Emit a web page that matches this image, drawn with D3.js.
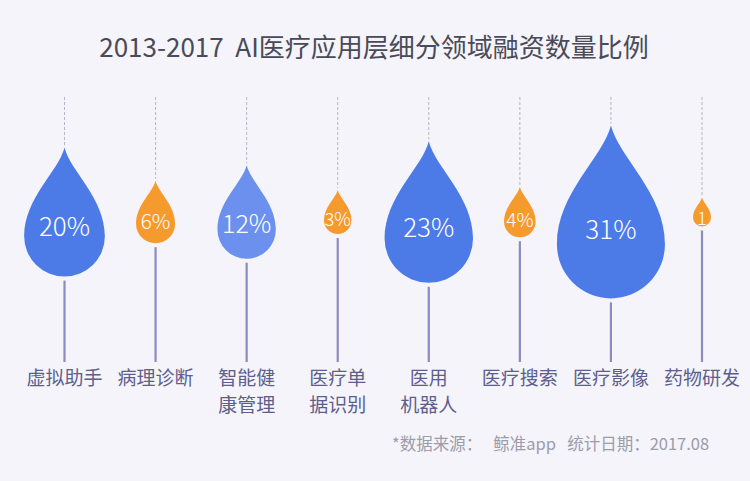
<!DOCTYPE html>
<html>
<head>
<meta charset="utf-8">
<script src="https://cdn.jsdelivr.net/npm/d3@7/dist/d3.min.js"></script>
<style>
  html, body { margin: 0; padding: 0; background: #f4f4fa; }
  svg { display: block; }
  text { font-family: "Noto Sans CJK SC", "Noto Sans", sans-serif; }
</style>
</head>
<body>
<svg id="chart" width="750" height="481"></svg>
<script>
// ---- data ----
const categories = ["虚拟助手", "病理诊断", "智能健康管理", "医疗单据识别", "医用机器人", "医疗搜索", "医疗影像", "药物研发"];
const labelLines = [["虚拟助手"], ["病理诊断"], ["智能健", "康管理"], ["医疗单", "据识别"], ["医用", "机器人"], ["医疗搜索"], ["医疗影像"], ["药物研发"]];
const values = [20, 6, 12, 3, 23, 4, 31, 1];
const valueLabels = ["20%", "6%", "12%", "3%", "23%", "4%", "31%", "1"];
const colorGroup = ["blue", "orange", "light", "orange", "blue", "orange", "blue", "orange"];
const titleText = "2013-2017  AI医疗应用层细分领域融资数量比例";
const sourceText = "*数据来源：   鲸准app   统计日期：2017.08";

// ---- drawing ----
const W = 750, H = 481;
const svg = d3.select("#chart");
svg.append("rect").attr("width", W).attr("height", H).attr("fill", "#f4f4fa");

svg.append("text")
  .attr("x", 374).attr("y", 45)
  .attr("text-anchor", "middle").attr("dominant-baseline", "central")
  .attr("font-size", 26).attr("fill", "#4a4a58")
  .style("white-space", "pre")
  .text(titleText);

const x = d3.scalePoint().domain(categories).range([64.5, 702]);
const r = d3.scalePow().exponent(0.75).domain([0, 31]).range([5.3, 54]);
const color = d3.scaleOrdinal().domain(["blue", "light", "orange"]).range(["#4c7be8", "#6b90ee", "#f59a2c"]);
const fontSize = v => Math.max(18.5, Math.min(26, 12 + 0.45 * r(v)));

const K = 2.2;            // tip height / radius
const midY = 212;         // vertical centre of each drop's bounding box
const dashTop = 97;
const stemBottom = 362;

function dropPath(rad) {
  const p = d3.path();
  p.moveTo(0, -K * rad);
  p.bezierCurveTo(0.15 * rad, -1.6 * rad, rad, -0.95 * rad, rad, 0);
  p.arc(0, 0, rad, 0, Math.PI, false);
  p.bezierCurveTo(-rad, -0.95 * rad, -0.15 * rad, -1.6 * rad, 0, -K * rad);
  p.closePath();
  return p.toString();
}

const g = svg.append("g");
const items = categories.map((c, i) => ({ c, i, v: values[i] }));

const col = g.selectAll("g.col").data(items).join("g")
  .attr("class", "col")
  .attr("transform", d => `translate(${x(d.c)},0)`);

col.each(function(d) {
  const sel = d3.select(this);
  const rad = r(d.v);
  const cy = midY + (K - 1) * rad / 2;
  const tipY = cy - K * rad;
  const botY = cy + rad;

  sel.append("line")
    .attr("x1", 0).attr("x2", 0)
    .attr("y1", dashTop).attr("y2", tipY - 2)
    .attr("stroke", "#b4b4c4").attr("stroke-width", 1)
    .attr("stroke-dasharray", "3,2");

  sel.append("line")
    .attr("x1", 0).attr("x2", 0)
    .attr("y1", botY + 4).attr("y2", stemBottom)
    .attr("stroke", "#8a8bbf").attr("stroke-width", 2.2);

  sel.append("path")
    .attr("transform", `translate(0,${cy})`)
    .attr("d", dropPath(rad))
    .attr("fill", color(colorGroup[d.i]));

  sel.append("text")
    .attr("x", 0).attr("y", 215 + 0.24 * rad)
    .attr("text-anchor", "middle").attr("dominant-baseline", "central")
    .attr("font-size", fontSize(d.v)).attr("font-weight", 300)
    .attr("fill", "#ffffff")
    .text(valueLabels[d.i]);

  labelLines[d.i].forEach((ln, j) => {
    sel.append("text")
      .attr("x", 0).attr("y", 376 + j * 27.5)
      .attr("text-anchor", "middle").attr("dominant-baseline", "central")
      .attr("font-size", 19).attr("fill", "#5e5e8e")
      .text(ln);
  });
});

svg.append("text")
  .attr("x", 392).attr("y", 443)
  .attr("dominant-baseline", "central")
  .attr("font-size", 16.5).attr("fill", "#9c9cab")
  .style("white-space", "pre")
  .text(sourceText);
</script>
</body>
</html>
